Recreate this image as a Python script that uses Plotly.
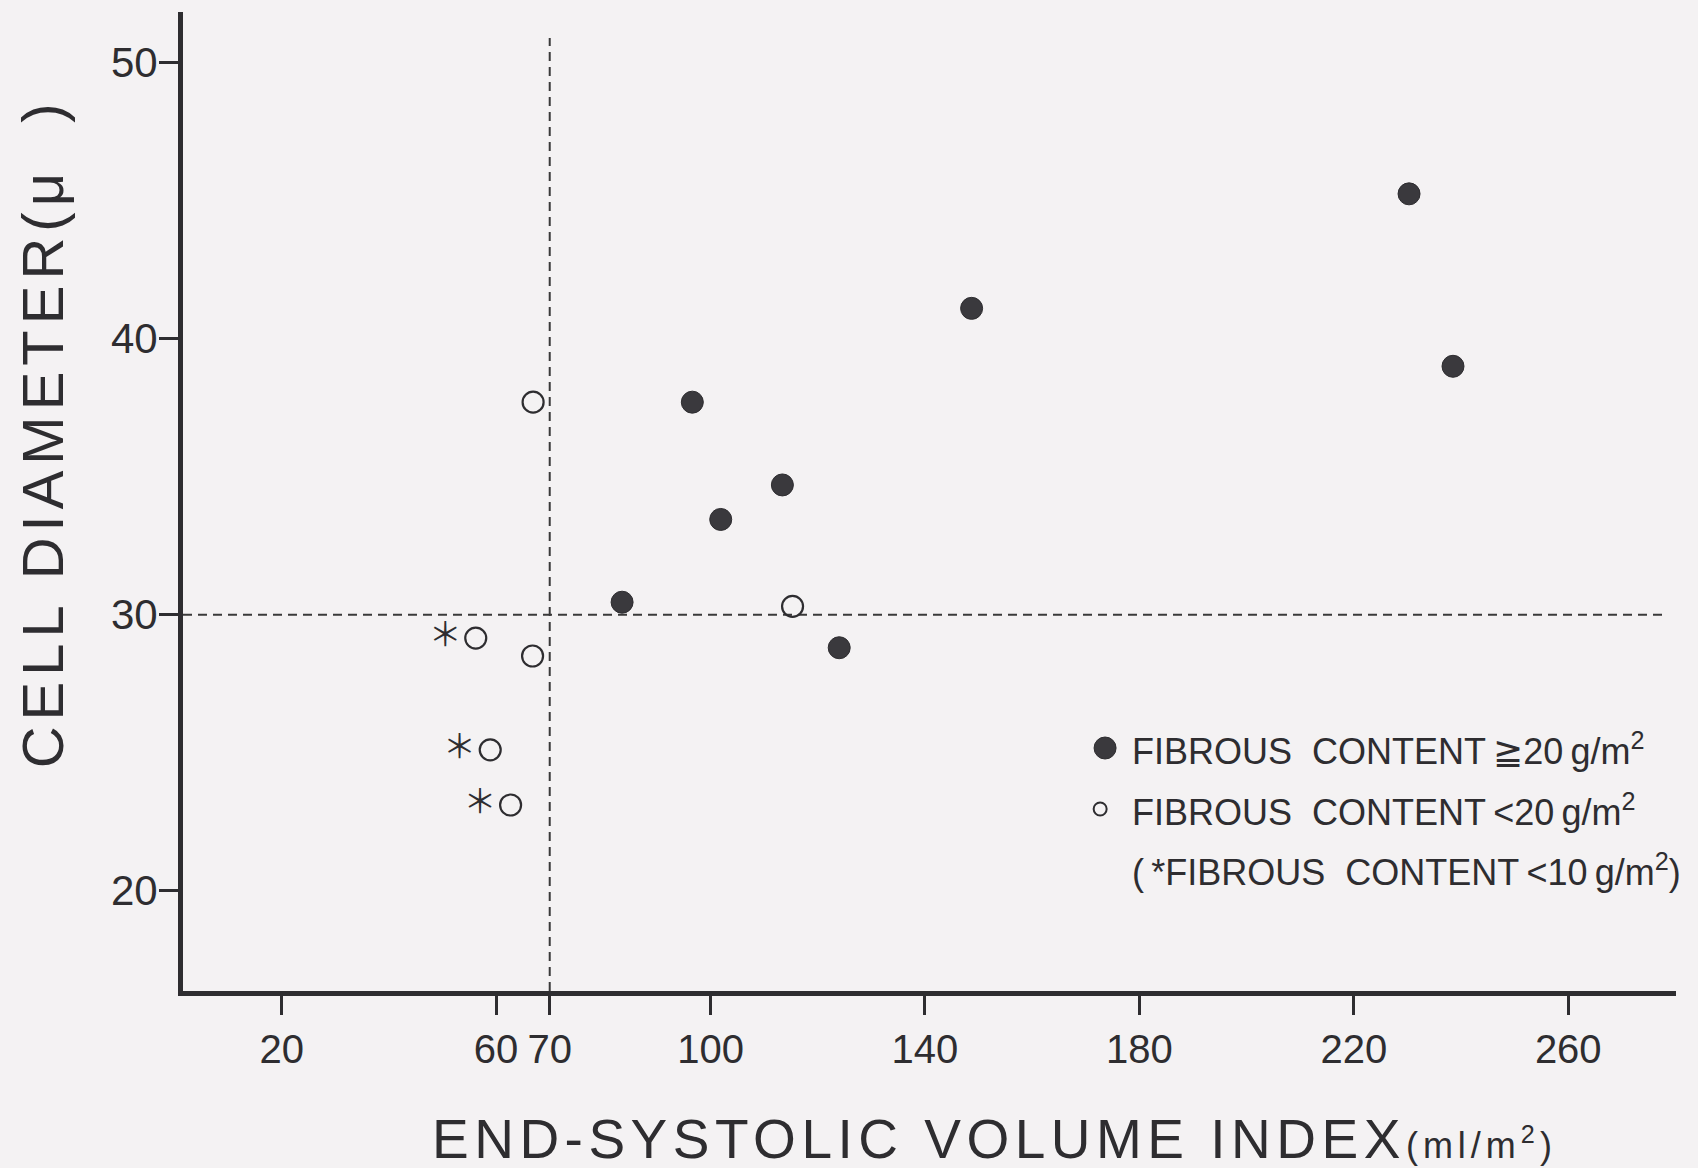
import plotly.graph_objects as go

# ---- data ----
# fibrous content >= 20 g/m2 (filled circles)
esvi_high = [83.5, 96.6, 101.9, 113.4, 124.0, 148.7, 230.3, 238.5]
diam_high = [30.45, 37.7, 33.45, 34.7, 28.8, 41.1, 45.25, 39.0]
# fibrous content < 20 g/m2 (open circles)
esvi_low = [66.9, 66.8, 115.3]
diam_low = [37.7, 28.5, 30.3]
# fibrous content < 10 g/m2 (open circles marked with *)
esvi_vlow = [56.2, 58.9, 62.7]
diam_vlow = [29.15, 25.1, 23.1]

x_ticks = [20, 60, 70, 100, 140, 180, 220, 260]
y_ticks = [20, 30, 40, 50]
x_cut = 70   # dashed reference line (ESVI)
y_cut = 30   # dashed reference line (cell diameter)

X_RANGE = [1.59, 280.1]
Y_RANGE = [16.36, 51.84]

BG = "rgb(244,242,243)"
INK = "#2e2d30"
DOT = "#3a393d"
REG = "Liberation Sans, Arial, sans-serif"
THIN = "\u2009"

fig = go.Figure()

fig.add_trace(go.Scatter(
    x=esvi_high, y=diam_high, mode="markers",
    marker=dict(symbol="circle", size=22, color=DOT, line=dict(width=1, color=INK)),
    showlegend=False, hoverinfo="x+y"))

fig.add_trace(go.Scatter(
    x=esvi_low, y=diam_low, mode="markers",
    marker=dict(symbol="circle-open", size=21, color=INK, line=dict(width=2.2, color=INK)),
    showlegend=False, hoverinfo="x+y"))

fig.add_trace(go.Scatter(
    x=esvi_vlow, y=diam_vlow, mode="markers+text",
    text=["＊"] * len(esvi_vlow), textposition="middle left",
    textfont=dict(family="Noto Sans CJK JP", size=33, color=INK),
    marker=dict(symbol="circle-open", size=21, color=INK, line=dict(width=2.2, color=INK)),
    showlegend=False, hoverinfo="x+y"))

# dashed reference lines
fig.add_shape(type="line", xref="x", yref="y", x0=X_RANGE[0], x1=278.6, y0=y_cut, y1=y_cut,
              line=dict(color="#3a3a3a", width=2, dash="9px,6px"), layer="below")
fig.add_shape(type="line", xref="x", yref="y", x0=x_cut, x1=x_cut, y0=Y_RANGE[0], y1=50.9,
              line=dict(color="#3a3a3a", width=2, dash="9px,6px"), layer="below")

# legend markers
fig.add_shape(type="circle", xref="paper", yref="paper", xsizemode="pixel", ysizemode="pixel",
              xanchor=0.6176, yanchor=0.2482, x0=-11, x1=11, y0=-11, y1=11,
              fillcolor=DOT, line=dict(color=INK, width=1))
fig.add_shape(type="circle", xref="paper", yref="paper", xsizemode="pixel", ysizemode="pixel",
              xanchor=0.6143, yanchor=0.1859, x0=-6.5, x1=6.5, y0=-6.5, y1=6.5,
              fillcolor="rgba(0,0,0,0)", line=dict(color=INK, width=2))

leg_font = dict(family=REG, size=36, color=INK)
legend_rows = [
    ("FIBROUS  CONTENT" + THIN + "≧20" + THIN + "g/m<sup>2</sup>", 0.2472),
    ("FIBROUS  CONTENT" + THIN + "&lt;20" + THIN + "g/m<sup>2</sup>", 0.1849),
    ("(" + THIN + "*FIBROUS  CONTENT" + THIN + "&lt;10" + THIN + "g/m<sup>2</sup>)", 0.1236),
]
for txt, yy in legend_rows:
    fig.add_annotation(text=txt, xref="paper", yref="paper", x=0.634, y=yy,
                       xanchor="left", yanchor="middle", showarrow=False, font=leg_font)

# axis titles
fig.add_annotation(
    text="<span style='letter-spacing:5.5px'>END-SYSTOLIC VOLUME INDEX</span>"
         "<span style='font-size:36px;letter-spacing:5px'>(ml/m<sup>2</sup>)</span>",
    xref="paper", yref="paper", x=0.5437, y=-0.151, xanchor="center", yanchor="middle",
    showarrow=False, font=dict(family=REG, size=55, color=INK))
fig.add_annotation(
    text="<span style='letter-spacing:6px'>CELL DIAMETER(μ  )</span>", textangle=-90,
    xref="paper", yref="paper", x=-0.0935, y=0.570, xanchor="center", yanchor="middle",
    showarrow=False, font=dict(family=REG, size=58, color=INK))

fig.update_xaxes(
    range=X_RANGE, tickmode="array", tickvals=x_ticks, ticktext=[str(v) for v in x_ticks],
    tickangle=0,
    showgrid=False, zeroline=False, showline=True, linewidth=5, linecolor=INK,
    ticks="outside", ticklen=19, tickwidth=3, tickcolor=INK,
    tickfont=dict(family=REG, size=40, color=INK), ticklabelstandoff=0)
fig.update_yaxes(
    range=Y_RANGE, tickmode="array", tickvals=y_ticks, ticktext=[str(v) for v in y_ticks],
    showgrid=False, zeroline=False, showline=True, linewidth=5, linecolor=INK,
    ticks="outside", ticklen=19, tickwidth=3, tickcolor=INK,
    tickfont=dict(family=REG, size=42, color=INK), ticklabelstandoff=-7)

fig.update_layout(
    width=1698, height=1168,
    margin=dict(l=183, r=22, t=12, b=177),
    paper_bgcolor=BG, plot_bgcolor=BG,
    showlegend=False)

fig.write_html("out.html")
